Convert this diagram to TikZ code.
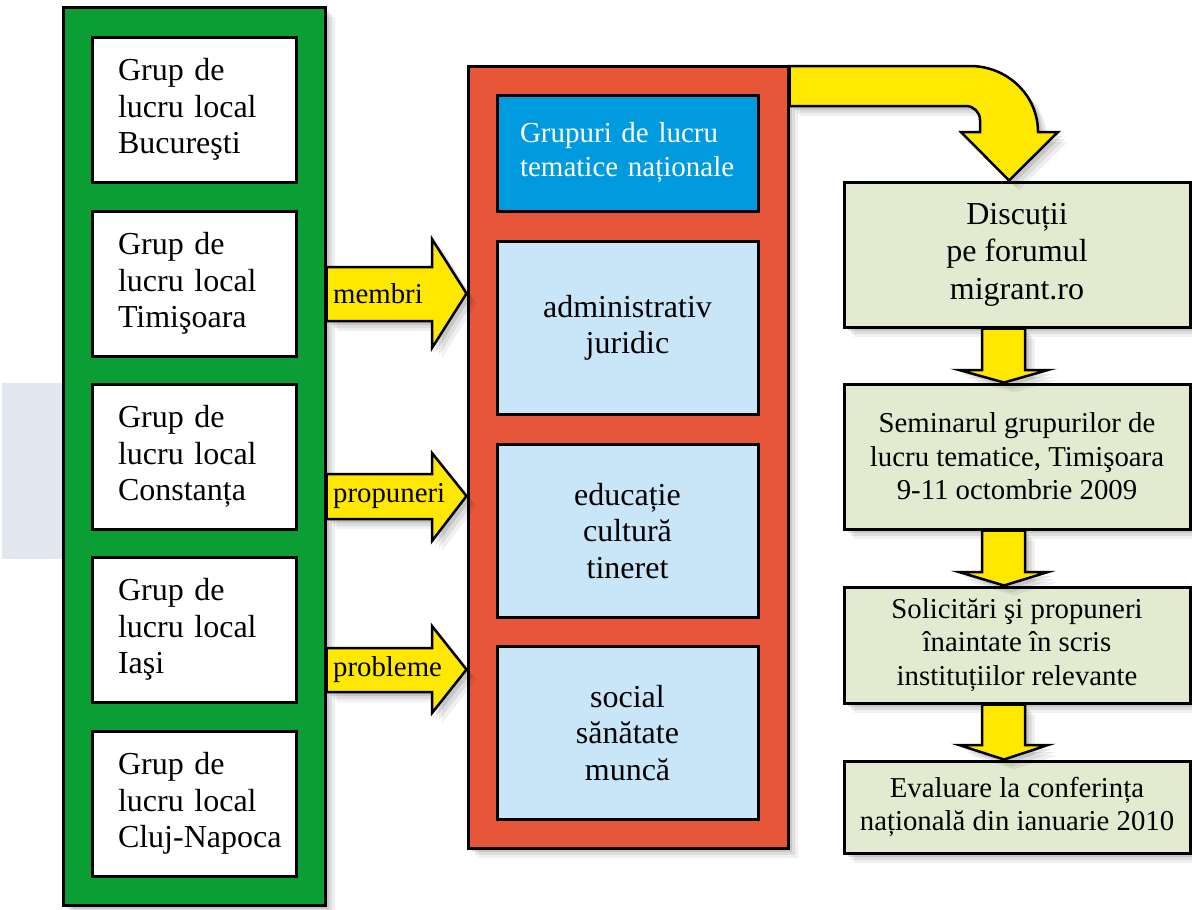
\documentclass[tikz,border=0pt]{standalone}
\usepackage{fontspec}
\setmainfont{Liberation Serif}
\usetikzlibrary{shadows}
\definecolor{cgreen}{RGB}{10,158,52}
\definecolor{cred}{RGB}{232,86,58}
\definecolor{cblue}{RGB}{0,155,223}
\definecolor{clblue}{RGB}{200,230,247}
\definecolor{cyel}{RGB}{255,232,0}
\definecolor{cpale}{RGB}{226,235,208}
\definecolor{cbg}{RGB}{227,231,240}
\newcommand\szBig{\fontsize{32pt}{36.5pt}\selectfont}
\newcommand\szMid{\fontsize{32pt}{37.5pt}\selectfont}
\newcommand\szSm{\fontsize{28.8pt}{33.5pt}\selectfont}
\newcommand\szBl{\fontsize{29pt}{34pt}\selectfont}
\tikzset{
  shad/.style={
    drop shadow={shadow xshift=10pt,shadow yshift=-10pt,opacity=0.06,fill=black},
    drop shadow={shadow xshift=7pt,shadow yshift=-7pt,opacity=0.08,fill=black},
    drop shadow={shadow xshift=4pt,shadow yshift=-4pt,opacity=0.10,fill=black}},
  outerbox/.style={draw=black,line width=3pt,shad,inner sep=0pt},
  whitebox/.style={draw=black,line width=3pt,fill=white,minimum width=204pt,minimum height=145pt,
     text width=152pt,inner xsep=26pt,align=left,font=\szBig},
  lbbox/.style={draw=black,line width=3pt,fill=clblue,minimum width=261pt,minimum height=173pt,
     align=center,font=\szBig},
  rbox/.style={draw=black,line width=3pt,fill=cpale,minimum width=346pt,align=center,shad},
  yarrow/.style={draw=black,line width=2.5pt,fill=cyel,line join=miter,shad},
  lab/.style={anchor=west,inner sep=0pt,font=\szSm}
}
\begin{document}
\begin{tikzpicture}[x=1pt,y=-1pt]
\useasboundingbox (0,0) rectangle (1192,910);
\fill[white] (0,0) rectangle (1192,910);
\fill[cbg] (2,383) rectangle (63,559);
% left column
\node[outerbox,fill=cgreen,minimum width=262pt,minimum height=898pt] (green) at (194,456) {};
\node[whitebox] (w1) at (194,109.5) {Grup de\\lucru local\\Bucureşti};
\node[whitebox] (w2) at (194,283.5) {Grup de\\lucru local\\Timişoara};
\node[whitebox] (w3) at (194,456.5) {Grup de\\lucru local\\Constanța};
\node[whitebox] (w4) at (194,629.5) {Grup de\\lucru local\\Iaşi};
\node[whitebox] (w5) at (194,803.5) {Grup de\\lucru local\\\mbox{Cluj-Napoca}};
% middle column
\node[outerbox,fill=cred,minimum width=320pt,minimum height=782pt] (red) at (628,457) {};
\node[draw=black,line width=3pt,fill=cblue,minimum width=261pt,minimum height=116pt,
      text width=215pt,inner xsep=23pt,align=left,font=\szBl,text=white] (blue) at (627.5,153)
      {Grupuri de lucru\\tematice naționale};
\node[lbbox] (m1) at (627.5,328) {administrativ\\juridic};
\node[lbbox] (m2) at (627.5,531) {educație\\cultură\\tineret};
\node[lbbox] (m3) at (627.5,733) {social\\sănătate\\muncă};
% right column
\node[rbox,minimum height=145pt,font=\szMid] (r1) at (1017,254.5) {Discuții\\pe forumul\\migrant.ro};
\node[rbox,minimum height=145pt,font=\szSm] (r2) at (1017,456.5) {Seminarul grupurilor de\\lucru tematice, Timişoara\\9-11 octombrie 2009};
\node[rbox,minimum height=116pt,font=\szSm] (r3) at (1017,645) {Solicitări şi propuneri\\înaintate în scris\\instituțiilor relevante};
\node[rbox,minimum height=92pt,font=\szSm] (r4) at (1017,807) {Evaluare la conferința\\națională din ianuarie 2010};
% left block arrows
\path[yarrow] (green.east |- 0,267) -- (432,267) -- (432,239) -- (red.west |- 0,293.5)
   -- (432,348) -- (432,321) -- (green.east |- 0,321) -- cycle;
\path[yarrow] (green.east |- 0,474) -- (432,474) -- (432,453) -- (red.west |- 0,496)
   -- (432,541) -- (432,519) -- (green.east |- 0,519) -- cycle;
\path[yarrow] (green.east |- 0,648) -- (432,648) -- (432,626) -- (red.west |- 0,669.5)
   -- (432,713) -- (432,692) -- (green.east |- 0,692) -- cycle;
\node[lab] (lmembri) at (333,293.5) {membri};
\node[lab] (lprop) at (333,496) {propuneri};
\node[lab] (lprob) at (333,669.5) {probleme};
% curved arrow from red to r1
\path[yarrow] (red.east |- 0,66) -- (970,66) .. controls (1007.6,66) and (1038,95.5) .. (1038,132)
   -- (1058,132) -- (1009,0 |- r1.north) -- (961,132) -- (980,132) -- (980,120)
   .. controls (980,112.3) and (973.7,106) .. (966,106) -- (red.east |- 0,106) -- cycle;
% down arrows
\path[yarrow] (982,0 |- r1.south) -- (982,370) -- (959,370) -- (1004,0 |- r2.north)
   -- (1048,370) -- (1025,370) -- (1025,0 |- r1.south) -- cycle;
\path[yarrow] (982,0 |- r2.south) -- (982,572) -- (959,572) -- (1004,0 |- r3.north)
   -- (1048,572) -- (1025,572) -- (1025,0 |- r2.south) -- cycle;
\path[yarrow] (982,0 |- r3.south) -- (982,745) -- (959,745) -- (1004,0 |- r4.north)
   -- (1048,745) -- (1025,745) -- (1025,0 |- r3.south) -- cycle;
\end{tikzpicture}
\end{document}
